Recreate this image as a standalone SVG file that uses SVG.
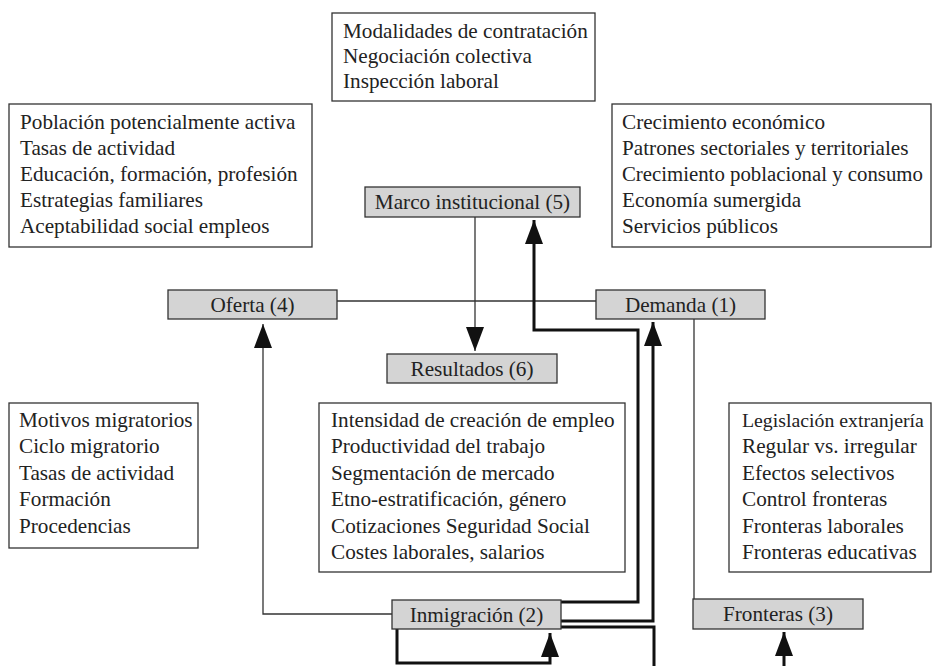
<svg xmlns="http://www.w3.org/2000/svg" width="932" height="666" viewBox="0 0 932 666">
<style>
.box{fill:#fff;stroke:#333;stroke-width:1.3}
.node{fill:#d4d4d4;stroke:#333;stroke-width:1.3}
text{font-family:"Liberation Serif","Times New Roman",serif;font-size:21.2px;fill:#222}
.c{text-anchor:middle}
.thin{fill:none;stroke:#333;stroke-width:1.3}
.thick{fill:none;stroke:#111;stroke-width:3}
</style>
<defs>
<marker id="ah" viewBox="0 0 24 18" refX="24" refY="9" markerWidth="24" markerHeight="18" markerUnits="userSpaceOnUse" orient="auto">
<path d="M0,0 L24,9 L0,18 z" fill="#111"/>
</marker>
</defs>
<rect width="932" height="666" fill="#fff"/>

<g id="connectors">
<path class="thin" d="M337,301 H596"/>
<path class="thin" d="M475,217 V351" marker-end="url(#ah)"/>
<path class="thin" d="M694,319 V599"/>
<path class="thin" d="M392,614 H263 V324" marker-end="url(#ah)"/>
<path class="thick" d="M561,602 H638 V330 H534 V220" marker-end="url(#ah)"/>
<path class="thick" d="M561,621 H653 V322" marker-end="url(#ah)"/>
<path class="thick" d="M561,627 H654 V666"/>
<path class="thick" d="M784,666 V632" marker-end="url(#ah)"/>
<path class="thick" d="M397,629 V663 H550 V633" marker-end="url(#ah)"/>
</g>

<g id="box-marco">
<rect class="box" x="332" y="13" width="263" height="88"/>
<text x="343" y="38">Modalidades de contratación</text>
<text x="343" y="63">Negociación colectiva</text>
<text x="343" y="88">Inspección laboral</text>
</g>
<g id="box-oferta">
<rect class="box" x="9" y="104" width="303" height="143"/>
<text x="20" y="129">Población potencialmente activa</text>
<text x="20" y="155">Tasas de actividad</text>
<text x="20" y="181">Educación, formación, profesión</text>
<text x="20" y="207">Estrategias familiares</text>
<text x="20" y="233">Aceptabilidad social empleos</text>
</g>
<g id="box-demanda">
<rect class="box" x="612" y="104" width="319" height="143"/>
<text x="622" y="129">Crecimiento económico</text>
<text x="622" y="155">Patrones sectoriales y territoriales</text>
<text x="622" y="181" style="font-size:20.8px">Crecimiento poblacional y consumo</text>
<text x="622" y="207">Economía sumergida</text>
<text x="622" y="233">Servicios públicos</text>
</g>
<g id="box-inmigracion">
<rect class="box" x="9" y="403" width="189" height="145"/>
<text x="19" y="427">Motivos migratorios</text>
<text x="19" y="453">Ciclo migratorio</text>
<text x="19" y="480">Tasas de actividad</text>
<text x="19" y="506">Formación</text>
<text x="19" y="533">Procedencias</text>
</g>
<g id="box-resultados">
<rect class="box" x="319" y="403" width="306" height="169"/>
<text x="331" y="427">Intensidad de creación de empleo</text>
<text x="331" y="453">Productividad del trabajo</text>
<text x="331" y="480">Segmentación de mercado</text>
<text x="331" y="506">Etno-estratificación, género</text>
<text x="331" y="533">Cotizaciones Seguridad Social</text>
<text x="331" y="559">Costes laborales, salarios</text>
</g>
<g id="box-fronteras">
<rect class="box" x="729" y="403" width="202" height="169"/>
<text x="742" y="427" style="font-size:19.8px">Legislación extranjería</text>
<text x="742" y="453">Regular vs. irregular</text>
<text x="742" y="480">Efectos selectivos</text>
<text x="742" y="506">Control fronteras</text>
<text x="742" y="533">Fronteras laborales</text>
<text x="742" y="559">Fronteras educativas</text>
</g>

<g id="marco"><rect class="node" x="365" y="187" width="215" height="30"/><text class="c" x="472.5" y="209">Marco institucional (5)</text></g>
<g id="oferta"><rect class="node" x="168" y="290" width="169" height="29"/><text class="c" x="252.5" y="312">Oferta (4)</text></g>
<g id="demanda"><rect class="node" x="596" y="290" width="169" height="29"/><text class="c" x="680.5" y="312">Demanda (1)</text></g>
<g id="resultados"><rect class="node" x="387" y="354" width="170" height="29"/><text class="c" x="472" y="376">Resultados (6)</text></g>
<g id="inmigracion"><rect class="node" x="392" y="600" width="169" height="29"/><text class="c" x="476.5" y="622">Inmigración (2)</text></g>
<g id="fronteras"><rect class="node" x="693" y="599" width="170" height="30"/><text class="c" x="778" y="621">Fronteras (3)</text></g>
</svg>
